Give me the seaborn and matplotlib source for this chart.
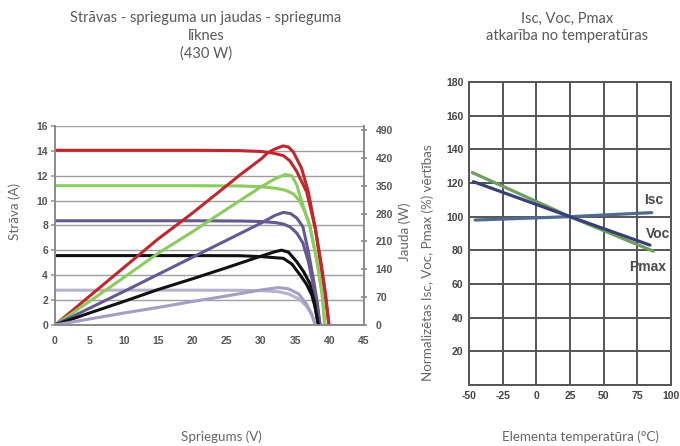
import matplotlib
matplotlib.use("Agg")
import matplotlib.pyplot as plt
import seaborn as sns
import pandas as pd

# ---------------- left chart: I-V (A) and P-V (W) curves ----------------
iv_v_red = [0, 10, 20, 27, 30, 31.5, 33.25, 34.2, 35.2, 36.65, 37.9, 38.8, 39.4, 39.9]
iv_i_red = [14.05, 14.05, 14.05, 14.02, 13.95, 13.85, 13.62, 13.2, 12.35, 10.7, 7.8, 4.8, 2.5, 0]
pv_v_red = [0, 5, 10, 15, 20, 25, 27, 30, 31, 32, 33.25, 34, 34.7, 35.9, 36.9, 37.9, 38.8, 39.4, 39.9]
pv_w_red = [0, 72, 144, 216, 281, 350, 378, 417, 433, 442, 450, 447, 435, 394, 334, 243, 141, 69, 0]

iv_v_green = [0, 10, 20, 27, 30, 32, 33.5, 34.7, 35.6, 36.4, 37.1, 38.2, 38.9, 39.3]
iv_i_green = [11.2, 11.2, 11.2, 11.18, 11.12, 11.0, 10.85, 10.55, 10.0, 9.1, 8.0, 5.0, 2.5, 0]
pv_v_green = [0, 5, 10, 15, 20, 25, 30, 32, 33.5, 34.5, 35.2, 36.4, 37.1, 38.2, 38.9, 39.3]
pv_w_green = [0, 59, 119, 180, 234, 291, 347, 367, 378, 375, 352, 284, 250, 156, 78, 0]

iv_v_purple = [0, 10, 20, 27, 30, 32, 33.25, 34.2, 35.2, 36.1, 36.9, 37.7, 38.2, 38.6]
iv_i_purple = [8.38, 8.38, 8.38, 8.36, 8.32, 8.24, 8.12, 7.9, 7.4, 6.6, 5.1, 3.0, 1.5, 0]
pv_v_purple = [0, 5, 10, 15, 20, 25, 30, 32, 33.25, 34.3, 35.2, 36.1, 36.9, 37.7, 38.2, 38.6]
pv_w_purple = [0, 42, 84, 127, 170, 213, 256, 275, 283, 280, 269, 247, 184, 108, 55, 0]

iv_v_black = [0, 10, 20, 26.9, 30, 33.25, 34.5, 35.7, 36.6, 37.4, 37.9, 38.35]
iv_i_black = [5.58, 5.58, 5.58, 5.57, 5.5, 5.36, 4.9, 4.02, 3.3, 2.41, 1.4, 0]
pv_v_black = [0, 5, 10, 15, 20, 25, 30, 32, 33, 34, 35.2, 36.2, 37.1, 37.7, 38.35]
pv_w_black = [0, 30, 59, 89, 116, 144, 173, 184, 188, 183, 159, 134, 105, 63, 0]

iv_v_lav = [0, 10, 20, 27, 30, 32.5, 34, 35.5, 36.65, 37.4, 37.9]
iv_i_lav = [2.8, 2.8, 2.8, 2.79, 2.76, 2.68, 2.5, 2.1, 1.5, 0.8, 0]
pv_v_lav = [0, 5, 10, 15, 20, 25, 30, 32.5, 34, 35.5, 36.65, 37.4, 37.9]
pv_w_lav = [0, 15, 30, 44, 59, 73, 88, 94, 91, 78, 52, 27, 0]

volt_ticks = list(range(0, 50, 5))
amp_ticks = list(range(0, 18, 2))
watt_ticks = list(range(0, 491, 70))

# ---------------- right chart: temperature dependence ----------------
temp_isc = [-45.5, 25, 85.7]
val_isc = [98, 100, 102.4]
temp_voc = [-46.8, 25, 84.4]
val_voc = [120.8, 100, 83.1]
temp_pmax = [-47.5, 25, 86.9]
val_pmax = [126.2, 100, 79.5]
temp_ticks = [-50, -25, 0, 25, 50, 75, 100]
pct_ticks = list(range(0, 181, 20))

sns.set_theme(style="white")
plt.rcParams["font.family"] = ["Lato", "DejaVu Sans"]
plt.rcParams["axes.unicode_minus"] = False

fig = plt.figure(figsize=(6.8, 4.46), dpi=100)
ax = fig.add_axes([55 / 680, 1 - 325 / 446, 309 / 680, 199 / 446])
axw = ax.twinx()

tick_font = dict(family="Liberation Sans", weight="bold", size=7.5)
label_color = "#666666"
label_size = 9.6

iv_sets = [
    (iv_v_red, iv_i_red, "#c1272d"),
    (iv_v_green, iv_i_green, "#8ccb5e"),
    (iv_v_purple, iv_i_purple, "#65598f"),
    (iv_v_black, iv_i_black, "#111111"),
    (iv_v_lav, iv_i_lav, "#b7b1ca"),
]
pv_sets = [
    (pv_v_red, pv_w_red, "#c1272d"),
    (pv_v_green, pv_w_green, "#8ccb5e"),
    (pv_v_purple, pv_w_purple, "#65598f"),
    (pv_v_black, pv_w_black, "#111111"),
    (pv_v_lav, pv_w_lav, "#a59dc3"),
]
for vv, ii, col in iv_sets:
    sns.lineplot(x=vv, y=ii, ax=ax, color=col, lw=2.2, sort=False)
for vv, ww, col in pv_sets:
    sns.lineplot(x=vv, y=ww, ax=axw, color=col, lw=2.2, sort=False)

ax.set_xlim(0, 45)
ax.set_ylim(0, 16)
axw.set_ylim(0, 500)
ax.set_xticks(volt_ticks)
ax.set_yticks(amp_ticks)
axw.set_yticks(watt_ticks)
ax.yaxis.grid(True, color="#9e9e9e", lw=1.0)
ax.set_axisbelow(True)
for a in (ax, axw):
    for s in a.spines.values():
        s.set_color("#8c8c8c")
    a.spines["top"].set_visible(False)
ax.tick_params(axis="x", direction="inout", length=4, color="#8c8c8c", pad=6)
ax.tick_params(axis="y", direction="out", length=3, color="#9e9e9e", pad=2)
axw.tick_params(axis="y", direction="inout", length=5, color="#8c8c8c", pad=6)
for lab in ax.get_xticklabels() + ax.get_yticklabels() + axw.get_yticklabels():
    lab.set_fontproperties(matplotlib.font_manager.FontProperties(**tick_font))
    lab.set_color("#555555")

ax.set_xlabel("Spriegums (V)", fontsize=label_size, color=label_color, va="center")
ax.xaxis.set_label_coords(0.54, -0.563)
ax.set_ylabel("Strāva (A)", fontsize=label_size, color=label_color, va="center", ha="center")
ax.yaxis.set_label_coords(-0.13, 0.568)
axw.set_ylabel("Jauda (W)", fontsize=label_size, color=label_color, va="center", ha="center")
axw.yaxis.set_label_coords(1.133, 0.47)

fig.text(206 / 680, 1 - 36 / 446,
         "Strāvas - sprieguma un jaudas - sprieguma\nlīknes\n(430 W)",
         ha="center", va="center", fontsize=10.5, color="#595959", linespacing=1.35)

# ---------------- right chart ----------------
ax2 = fig.add_axes([469 / 680, 1 - 385 / 446, 202 / 680, 303 / 446])
sns.lineplot(x=temp_isc, y=val_isc, ax=ax2, color="#4f6b8e", lw=2.3)
sns.lineplot(x=temp_pmax, y=val_pmax, ax=ax2, color="#6c9e5c", lw=2.3)
sns.lineplot(x=temp_voc, y=val_voc, ax=ax2, color="#3b3f78", lw=2.3)
ax2.set_xlim(-50, 100)
ax2.set_ylim(0, 180)
ax2.set_xticks(temp_ticks)
ax2.set_yticks(pct_ticks)
ax2.set_yticklabels([""] + [str(t) for t in pct_ticks[1:]])
ax2.grid(True, color="#555555", lw=1.4)
ax2.set_axisbelow(True)
for s in ax2.spines.values():
    s.set_color("#555555")
    s.set_linewidth(1.4)
ax2.tick_params(length=0, pad=4)
for lab in ax2.get_xticklabels() + ax2.get_yticklabels():
    lab.set_fontproperties(matplotlib.font_manager.FontProperties(**tick_font))
    lab.set_color("#444444")

for txt, tx, ty in [("Isc", 87, 110), ("Voc", 90, 89.5), ("Pmax", 83, 70)]:
    ax2.text(tx, ty, txt, ha="center", va="center", fontsize=10,
             family="Liberation Sans", weight="bold", color="#4a4a4a")

ax2.set_xlabel("Elementa temperatūra (°C)", fontsize=label_size, color=label_color, va="center")
ax2.xaxis.set_label_coords(0.554, -0.171)
ax2.set_ylabel("Normalizētas Isc, Voc, Pmax (%) vērtības", fontsize=label_size,
               color=label_color, va="center", ha="center")
ax2.yaxis.set_label_coords(-0.203, 0.404)

fig.text(567 / 680, 1 - 27.5 / 446, "Isc, Voc, Pmax\natkarība no temperatūras",
         ha="center", va="center", fontsize=10.5, color="#595959", linespacing=1.35)

fig.savefig("out.png", dpi=100, facecolor="white")
